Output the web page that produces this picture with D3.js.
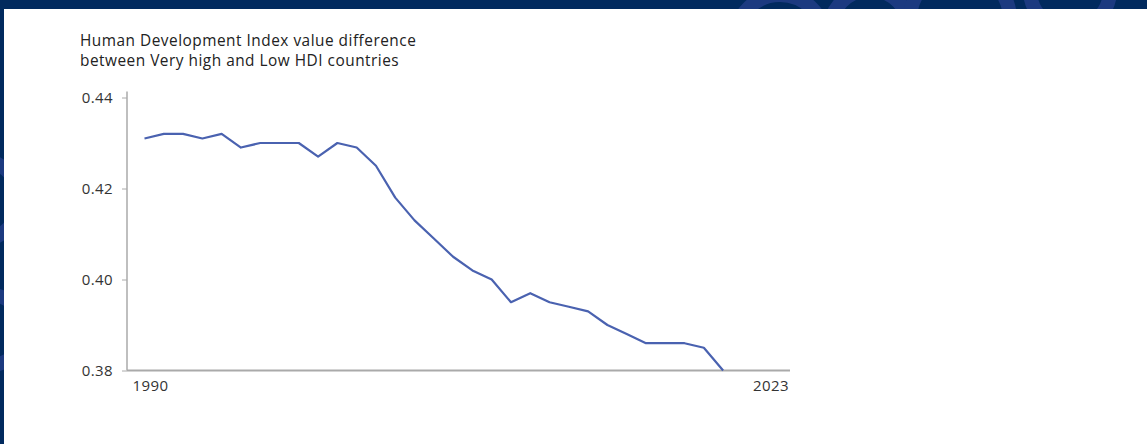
<!DOCTYPE html>
<html>
<head>
<meta charset="utf-8">
<script src="https://cdn.jsdelivr.net/npm/d3@7"></script>
<style>
  html, body { margin: 0; padding: 0; background: #012a5e; }
  svg { display: block; }
</style>
</head>
<body>
<svg id="chart" width="1147" height="444"></svg>
<script>
const years = [1990,1991,1992,1993,1994,1995,1996,1997,1998,1999,2000,2001,2002,2003,2004,2005,2006,2007,2008,2009,2010,2011,2012,2013,2014,2015,2016,2017,2018,2019,2020];
const hdiGap = [0.431,0.432,0.432,0.431,0.432,0.429,0.430,0.430,0.430,0.427,0.430,0.429,0.425,0.418,0.413,0.409,0.405,0.402,0.400,0.395,0.397,0.395,0.394,0.393,0.390,0.388,0.386,0.386,0.386,0.385,0.380];
const yTicks = [0.38, 0.40, 0.42, 0.44];
const xTickLabels = [1990, 2023];
const titleLines = ["Human Development Index value difference", "between Very high and Low HDI countries"];

const svg = d3.select("#chart");
const W = 1147, H = 444;

// background
svg.append("rect").attr("width", W).attr("height", H).attr("fill", "#012a5e");
const deco = svg.append("g").attr("fill", "none").attr("stroke", "#1c3a80").attr("stroke-width", 14);
[[780, 40, 45], [870, 30, 40], [960, 20, 50], [1070, -10, 40], [-20, 200, 40], [-10, 330, 35]].forEach(c => {
  deco.append("circle").attr("cx", c[0]).attr("cy", c[1]).attr("r", c[2]);
});
// card
svg.append("rect").attr("x", 4).attr("y", 9).attr("width", W - 4).attr("height", H - 9).attr("fill", "#ffffff");

const font = "'Open Sans', sans-serif";
const x = d3.scaleLinear().domain([1990, 2023]).range([144.5, 781]);
const y = d3.scaleLinear().domain([0.38, 0.44]).range([370.5, 97.5]);

// title
const t = svg.append("text").attr("x", 80).attr("y", 46).attr("font-family", font)
  .attr("font-size", 15.4).attr("letter-spacing", 0.5).attr("fill", "#222");
titleLines.forEach((l, i) => t.append("tspan").attr("x", 80).attr("dy", i === 0 ? 0 : 20).text(l));

// y axis
const yAxis = svg.append("g").attr("transform", "translate(127,0)")
  .call(d3.axisLeft(y).tickValues(yTicks).tickFormat(d3.format(".2f")).tickSize(5).tickPadding(9));
yAxis.select(".domain").attr("stroke", "#aaaaaa").attr("stroke-width", 1.5)
  .attr("d", `M0,${y(0.44) - 6}V${y(0.38)}`);
yAxis.selectAll(".tick line").attr("stroke", "#aaaaaa");
yAxis.selectAll(".tick text").attr("font-family", font).attr("font-size", 15)
  .attr("letter-spacing", 0.4).attr("fill", "#333");

// x axis line
svg.append("line").attr("x1", 127).attr("x2", 790).attr("y1", y(0.38)).attr("y2", y(0.38))
  .attr("stroke", "#aaaaaa").attr("stroke-width", 2);

// x labels
svg.selectAll(".xlab").data(xTickLabels).enter().append("text")
  .attr("class", "xlab")
  .attr("x", d => d === 1990 ? x(d) - 12 : x(d) + 8)
  .attr("y", y(0.38) + 20)
  .attr("text-anchor", d => d === 1990 ? "start" : "end")
  .attr("font-family", font).attr("font-size", 15).attr("letter-spacing", 0.4).attr("fill", "#333")
  .text(d => d);

// line
const data = years.map((yr, i) => ({ yr, v: hdiGap[i] }));
svg.append("path").datum(data)
  .attr("fill", "none").attr("stroke", "#4a62b0").attr("stroke-width", 2.2)
  .attr("stroke-linejoin", "round")
  .attr("d", d3.line().x(d => x(d.yr)).y(d => y(d.v)));
</script>
</body>
</html>
